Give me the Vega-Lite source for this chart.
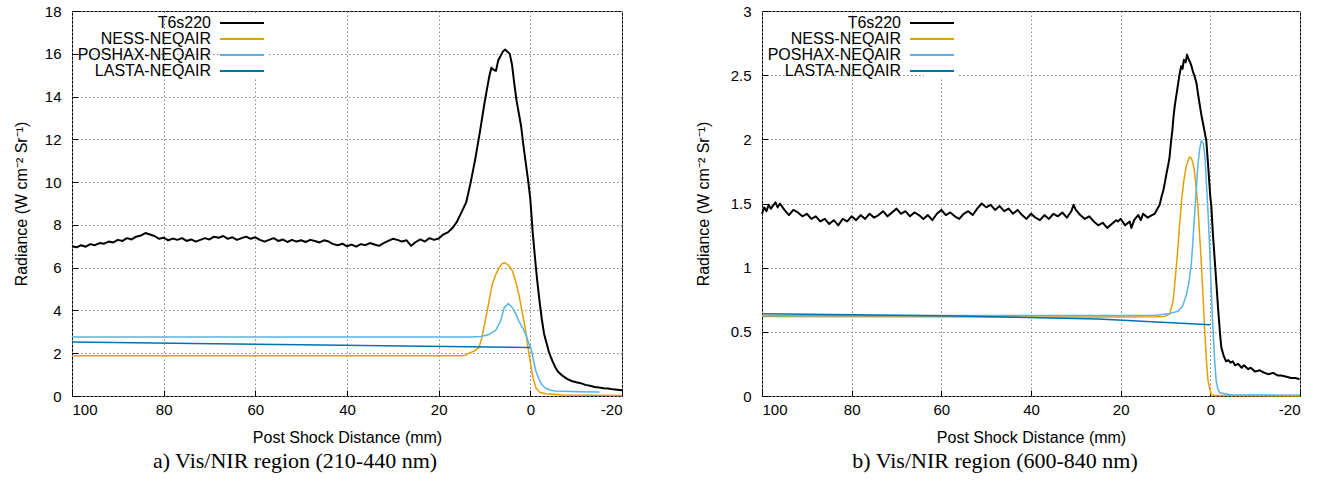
{
  "$schema": "https://vega.github.io/schema/vega-lite/v6.json",
  "background": "white",
  "padding": {"left": 12, "top": 3, "right": 5, "bottom": 5},
  "spacing": 70,
  "resolve": {"scale": {"color": "independent"}, "legend": {"color": "independent"}},
  "hconcat": [
    {
      "width": 550,
      "height": 385,
      "title": {"text": "a) Vis/NIR region (210-440 nm)", "orient": "bottom", "dx": -52},
      "data": {"values": [
        {"series":"T6s220","distance":100,"radiance":7.00},{"series":"T6s220","distance":99,"radiance":6.95},{"series":"T6s220","distance":98,"radiance":7.05},{"series":"T6s220","distance":97,"radiance":6.98},{"series":"T6s220","distance":96,"radiance":7.10},{"series":"T6s220","distance":95,"radiance":7.05},{"series":"T6s220","distance":94,"radiance":7.15},{"series":"T6s220","distance":93,"radiance":7.12},{"series":"T6s220","distance":92,"radiance":7.22},{"series":"T6s220","distance":91,"radiance":7.18},{"series":"T6s220","distance":90,"radiance":7.30},{"series":"T6s220","distance":89,"radiance":7.25},{"series":"T6s220","distance":88,"radiance":7.38},{"series":"T6s220","distance":87,"radiance":7.32},{"series":"T6s220","distance":86,"radiance":7.45},{"series":"T6s220","distance":85,"radiance":7.50},{"series":"T6s220","distance":84,"radiance":7.62},{"series":"T6s220","distance":83,"radiance":7.55},{"series":"T6s220","distance":82,"radiance":7.48},{"series":"T6s220","distance":81,"radiance":7.35},{"series":"T6s220","distance":80,"radiance":7.40},{"series":"T6s220","distance":79,"radiance":7.28},{"series":"T6s220","distance":78,"radiance":7.36},{"series":"T6s220","distance":77,"radiance":7.30},{"series":"T6s220","distance":76,"radiance":7.38},{"series":"T6s220","distance":75,"radiance":7.25},{"series":"T6s220","distance":74,"radiance":7.32},{"series":"T6s220","distance":73,"radiance":7.22},{"series":"T6s220","distance":72,"radiance":7.30},{"series":"T6s220","distance":71,"radiance":7.38},{"series":"T6s220","distance":70,"radiance":7.32},{"series":"T6s220","distance":69,"radiance":7.45},{"series":"T6s220","distance":68,"radiance":7.40},{"series":"T6s220","distance":67,"radiance":7.48},{"series":"T6s220","distance":66,"radiance":7.35},{"series":"T6s220","distance":65,"radiance":7.42},{"series":"T6s220","distance":64,"radiance":7.30},{"series":"T6s220","distance":63,"radiance":7.38},{"series":"T6s220","distance":62,"radiance":7.45},{"series":"T6s220","distance":61,"radiance":7.35},{"series":"T6s220","distance":60,"radiance":7.42},{"series":"T6s220","distance":59,"radiance":7.30},{"series":"T6s220","distance":58,"radiance":7.22},{"series":"T6s220","distance":57,"radiance":7.30},{"series":"T6s220","distance":56,"radiance":7.38},{"series":"T6s220","distance":55,"radiance":7.25},{"series":"T6s220","distance":54,"radiance":7.32},{"series":"T6s220","distance":53,"radiance":7.20},{"series":"T6s220","distance":52,"radiance":7.30},{"series":"T6s220","distance":51,"radiance":7.22},{"series":"T6s220","distance":50,"radiance":7.28},{"series":"T6s220","distance":49,"radiance":7.20},{"series":"T6s220","distance":48,"radiance":7.30},{"series":"T6s220","distance":47,"radiance":7.25},{"series":"T6s220","distance":46,"radiance":7.18},{"series":"T6s220","distance":45,"radiance":7.28},{"series":"T6s220","distance":44,"radiance":7.22},{"series":"T6s220","distance":43,"radiance":7.10},{"series":"T6s220","distance":42,"radiance":7.05},{"series":"T6s220","distance":41,"radiance":7.12},{"series":"T6s220","distance":40,"radiance":7.00},{"series":"T6s220","distance":39,"radiance":7.08},{"series":"T6s220","distance":38,"radiance":6.98},{"series":"T6s220","distance":37,"radiance":7.10},{"series":"T6s220","distance":36,"radiance":7.05},{"series":"T6s220","distance":35,"radiance":7.15},{"series":"T6s220","distance":34,"radiance":7.08},{"series":"T6s220","distance":33,"radiance":7.02},{"series":"T6s220","distance":32,"radiance":7.15},{"series":"T6s220","distance":31,"radiance":7.25},{"series":"T6s220","distance":30,"radiance":7.35},{"series":"T6s220","distance":29,"radiance":7.30},{"series":"T6s220","distance":28,"radiance":7.22},{"series":"T6s220","distance":27,"radiance":7.28},{"series":"T6s220","distance":26,"radiance":7.02},{"series":"T6s220","distance":25,"radiance":7.20},{"series":"T6s220","distance":24,"radiance":7.32},{"series":"T6s220","distance":23,"radiance":7.22},{"series":"T6s220","distance":22,"radiance":7.38},{"series":"T6s220","distance":21,"radiance":7.30},{"series":"T6s220","distance":20,"radiance":7.36},{"series":"T6s220","distance":19,"radiance":7.55},{"series":"T6s220","distance":18,"radiance":7.65},{"series":"T6s220","distance":17,"radiance":7.85},{"series":"T6s220","distance":16,"radiance":8.15},{"series":"T6s220","distance":15,"radiance":8.60},{"series":"T6s220","distance":14,"radiance":9.05},{"series":"T6s220","distance":13,"radiance":10.0},{"series":"T6s220","distance":12,"radiance":11.1},{"series":"T6s220","distance":11,"radiance":12.35},{"series":"T6s220","distance":10,"radiance":13.7},{"series":"T6s220","distance":9.5,"radiance":14.3},{"series":"T6s220","distance":9,"radiance":14.9},{"series":"T6s220","distance":8.5,"radiance":15.35},{"series":"T6s220","distance":8,"radiance":15.25},{"series":"T6s220","distance":7.5,"radiance":15.2},{"series":"T6s220","distance":7,"radiance":15.7},{"series":"T6s220","distance":6.5,"radiance":15.9},{"series":"T6s220","distance":6,"radiance":16.1},{"series":"T6s220","distance":5.5,"radiance":16.2},{"series":"T6s220","distance":5,"radiance":16.1},{"series":"T6s220","distance":4.5,"radiance":16.0},{"series":"T6s220","distance":4,"radiance":15.5},{"series":"T6s220","distance":3.5,"radiance":14.6},{"series":"T6s220","distance":3,"radiance":13.8},{"series":"T6s220","distance":2.5,"radiance":13.2},{"series":"T6s220","distance":2,"radiance":12.6},{"series":"T6s220","distance":1.5,"radiance":11.7},{"series":"T6s220","distance":1,"radiance":10.9},{"series":"T6s220","distance":0.5,"radiance":10.1},{"series":"T6s220","distance":0,"radiance":9.2},{"series":"T6s220","distance":-0.5,"radiance":7.7},{"series":"T6s220","distance":-1,"radiance":6.5},{"series":"T6s220","distance":-1.5,"radiance":5.4},{"series":"T6s220","distance":-2,"radiance":4.45},{"series":"T6s220","distance":-2.5,"radiance":3.6},{"series":"T6s220","distance":-3,"radiance":2.9},{"series":"T6s220","distance":-3.5,"radiance":2.5},{"series":"T6s220","distance":-4,"radiance":2.1},{"series":"T6s220","distance":-4.5,"radiance":1.8},{"series":"T6s220","distance":-5,"radiance":1.55},{"series":"T6s220","distance":-5.5,"radiance":1.32},{"series":"T6s220","distance":-6,"radiance":1.15},{"series":"T6s220","distance":-7,"radiance":0.95},{"series":"T6s220","distance":-8,"radiance":0.80},{"series":"T6s220","distance":-9,"radiance":0.70},{"series":"T6s220","distance":-10,"radiance":0.64},{"series":"T6s220","distance":-11,"radiance":0.60},{"series":"T6s220","distance":-12,"radiance":0.52},{"series":"T6s220","distance":-13,"radiance":0.48},{"series":"T6s220","distance":-14,"radiance":0.42},{"series":"T6s220","distance":-15,"radiance":0.40},{"series":"T6s220","distance":-16,"radiance":0.36},{"series":"T6s220","distance":-17,"radiance":0.35},{"series":"T6s220","distance":-18,"radiance":0.31},{"series":"T6s220","distance":-19,"radiance":0.29},{"series":"T6s220","distance":-20,"radiance":0.27},
        {"series":"NESS-NEQAIR","distance":100,"radiance":1.88},{"series":"NESS-NEQAIR","distance":15,"radiance":1.88},{"series":"NESS-NEQAIR","distance":14,"radiance":1.92},{"series":"NESS-NEQAIR","distance":13.4,"radiance":2.0},{"series":"NESS-NEQAIR","distance":12.3,"radiance":2.1},{"series":"NESS-NEQAIR","distance":11.2,"radiance":2.26},{"series":"NESS-NEQAIR","distance":10.5,"radiance":2.8},{"series":"NESS-NEQAIR","distance":9.7,"radiance":3.66},{"series":"NESS-NEQAIR","distance":9.0,"radiance":4.45},{"series":"NESS-NEQAIR","distance":8.3,"radiance":5.22},{"series":"NESS-NEQAIR","distance":7.5,"radiance":5.7},{"series":"NESS-NEQAIR","distance":6.8,"radiance":6.0},{"series":"NESS-NEQAIR","distance":6.2,"radiance":6.18},{"series":"NESS-NEQAIR","distance":5.5,"radiance":6.23},{"series":"NESS-NEQAIR","distance":4.7,"radiance":6.1},{"series":"NESS-NEQAIR","distance":3.9,"radiance":5.84},{"series":"NESS-NEQAIR","distance":3.2,"radiance":5.35},{"series":"NESS-NEQAIR","distance":2.5,"radiance":4.75},{"series":"NESS-NEQAIR","distance":1.8,"radiance":3.95},{"series":"NESS-NEQAIR","distance":1.0,"radiance":3.04},{"series":"NESS-NEQAIR","distance":0.5,"radiance":2.25},{"series":"NESS-NEQAIR","distance":-0.07,"radiance":1.48},{"series":"NESS-NEQAIR","distance":-0.6,"radiance":0.85},{"series":"NESS-NEQAIR","distance":-1.2,"radiance":0.39},{"series":"NESS-NEQAIR","distance":-2,"radiance":0.18},{"series":"NESS-NEQAIR","distance":-3.35,"radiance":0.11},{"series":"NESS-NEQAIR","distance":-7,"radiance":0.05},{"series":"NESS-NEQAIR","distance":-20,"radiance":0.02},
        {"series":"POSHAX-NEQAIR","distance":100,"radiance":2.76},{"series":"POSHAX-NEQAIR","distance":13,"radiance":2.76},{"series":"POSHAX-NEQAIR","distance":10.8,"radiance":2.78},{"series":"POSHAX-NEQAIR","distance":9,"radiance":2.88},{"series":"POSHAX-NEQAIR","distance":7.55,"radiance":3.07},{"series":"POSHAX-NEQAIR","distance":6.5,"radiance":3.5},{"series":"POSHAX-NEQAIR","distance":5.7,"radiance":4.13},{"series":"POSHAX-NEQAIR","distance":4.8,"radiance":4.32},{"series":"POSHAX-NEQAIR","distance":3.9,"radiance":4.13},{"series":"POSHAX-NEQAIR","distance":3.2,"radiance":3.85},{"series":"POSHAX-NEQAIR","distance":2.5,"radiance":3.5},{"series":"POSHAX-NEQAIR","distance":1.7,"radiance":3.2},{"series":"POSHAX-NEQAIR","distance":1.0,"radiance":2.88},{"series":"POSHAX-NEQAIR","distance":0.3,"radiance":2.45},{"series":"POSHAX-NEQAIR","distance":-0.3,"radiance":2.1},{"series":"POSHAX-NEQAIR","distance":-0.8,"radiance":1.55},{"series":"POSHAX-NEQAIR","distance":-1.2,"radiance":1.17},{"series":"POSHAX-NEQAIR","distance":-1.9,"radiance":0.78},{"series":"POSHAX-NEQAIR","distance":-2.6,"radiance":0.5},{"series":"POSHAX-NEQAIR","distance":-3.35,"radiance":0.36},{"series":"POSHAX-NEQAIR","distance":-4.5,"radiance":0.27},{"series":"POSHAX-NEQAIR","distance":-5.5,"radiance":0.23},{"series":"POSHAX-NEQAIR","distance":-10.6,"radiance":0.2},{"series":"POSHAX-NEQAIR","distance":-15.1,"radiance":0.19},
        {"series":"LASTA-NEQAIR","distance":100,"radiance":2.52},{"series":"LASTA-NEQAIR","distance":50,"radiance":2.40},{"series":"LASTA-NEQAIR","distance":0,"radiance":2.27}
      ]},
      "encoding": {
        "x": {"field": "distance", "type": "quantitative", "scale": {"domain": [-20, 100], "reverse": true, "nice": false, "zero": false}, "axis": {"values": [100, 80, 60, 40, 20, 0, -20], "title": "Post Shock Distance (mm)"}},
        "y": {"field": "radiance", "type": "quantitative", "scale": {"domain": [0, 18], "nice": false}, "axis": {"values": [0, 2, 4, 6, 8, 10, 12, 14, 16, 18], "title": "Radiance (W cm⁻² Sr⁻¹)"}},
        "color": {"field": "series", "type": "nominal", "scale": {"domain": ["T6s220", "NESS-NEQAIR", "POSHAX-NEQAIR", "LASTA-NEQAIR"], "range": ["#000000", "#E69F00", "#56B4E9", "#0072B2"]}}
      },
      "layer": [
        {"transform": [{"filter": "datum.series !== 'T6s220'"}], "mark": {"type": "line", "strokeWidth": 1.5, "strokeJoin": "round"}},
        {"transform": [{"filter": "datum.series === 'T6s220'"}], "mark": {"type": "line", "strokeWidth": 2, "strokeJoin": "round"}}
      ]
    },
    {
      "width": 538,
      "height": 385,
      "title": {"text": "b) Vis/NIR region (600-840 nm)", "orient": "bottom", "dx": -36},
      "data": {"values": [
        {"series":"T6s220","distance":100,"radiance":1.42},{"series":"T6s220","distance":99.5,"radiance":1.47},{"series":"T6s220","distance":99,"radiance":1.44},{"series":"T6s220","distance":98.5,"radiance":1.49},{"series":"T6s220","distance":98,"radiance":1.46},{"series":"T6s220","distance":97,"radiance":1.51},{"series":"T6s220","distance":96.5,"radiance":1.47},{"series":"T6s220","distance":96,"radiance":1.50},{"series":"T6s220","distance":95,"radiance":1.45},{"series":"T6s220","distance":94,"radiance":1.41},{"series":"T6s220","distance":93,"radiance":1.45},{"series":"T6s220","distance":92,"radiance":1.43},{"series":"T6s220","distance":91,"radiance":1.40},{"series":"T6s220","distance":90,"radiance":1.42},{"series":"T6s220","distance":89,"radiance":1.38},{"series":"T6s220","distance":88,"radiance":1.40},{"series":"T6s220","distance":87,"radiance":1.36},{"series":"T6s220","distance":86,"radiance":1.38},{"series":"T6s220","distance":85,"radiance":1.34},{"series":"T6s220","distance":84,"radiance":1.37},{"series":"T6s220","distance":83,"radiance":1.33},{"series":"T6s220","distance":82,"radiance":1.38},{"series":"T6s220","distance":81,"radiance":1.36},{"series":"T6s220","distance":80,"radiance":1.40},{"series":"T6s220","distance":79,"radiance":1.37},{"series":"T6s220","distance":78,"radiance":1.41},{"series":"T6s220","distance":77,"radiance":1.38},{"series":"T6s220","distance":76,"radiance":1.42},{"series":"T6s220","distance":75,"radiance":1.39},{"series":"T6s220","distance":74,"radiance":1.41},{"series":"T6s220","distance":73,"radiance":1.44},{"series":"T6s220","distance":72,"radiance":1.40},{"series":"T6s220","distance":71,"radiance":1.43},{"series":"T6s220","distance":70,"radiance":1.46},{"series":"T6s220","distance":69,"radiance":1.42},{"series":"T6s220","distance":68,"radiance":1.44},{"series":"T6s220","distance":67,"radiance":1.40},{"series":"T6s220","distance":66,"radiance":1.43},{"series":"T6s220","distance":65,"radiance":1.41},{"series":"T6s220","distance":64,"radiance":1.38},{"series":"T6s220","distance":63,"radiance":1.41},{"series":"T6s220","distance":62,"radiance":1.37},{"series":"T6s220","distance":61,"radiance":1.42},{"series":"T6s220","distance":60,"radiance":1.45},{"series":"T6s220","distance":59,"radiance":1.41},{"series":"T6s220","distance":58,"radiance":1.43},{"series":"T6s220","distance":57,"radiance":1.40},{"series":"T6s220","distance":56,"radiance":1.38},{"series":"T6s220","distance":55,"radiance":1.42},{"series":"T6s220","distance":54,"radiance":1.44},{"series":"T6s220","distance":53,"radiance":1.41},{"series":"T6s220","distance":52,"radiance":1.46},{"series":"T6s220","distance":51,"radiance":1.50},{"series":"T6s220","distance":50,"radiance":1.47},{"series":"T6s220","distance":49,"radiance":1.49},{"series":"T6s220","distance":48,"radiance":1.45},{"series":"T6s220","distance":47,"radiance":1.48},{"series":"T6s220","distance":46,"radiance":1.44},{"series":"T6s220","distance":45,"radiance":1.46},{"series":"T6s220","distance":44,"radiance":1.42},{"series":"T6s220","distance":43,"radiance":1.45},{"series":"T6s220","distance":42,"radiance":1.41},{"series":"T6s220","distance":41,"radiance":1.38},{"series":"T6s220","distance":40,"radiance":1.42},{"series":"T6s220","distance":39,"radiance":1.39},{"series":"T6s220","distance":38,"radiance":1.37},{"series":"T6s220","distance":37,"radiance":1.41},{"series":"T6s220","distance":36,"radiance":1.38},{"series":"T6s220","distance":35,"radiance":1.42},{"series":"T6s220","distance":34,"radiance":1.40},{"series":"T6s220","distance":33,"radiance":1.43},{"series":"T6s220","distance":32,"radiance":1.39},{"series":"T6s220","distance":31,"radiance":1.44},{"series":"T6s220","distance":30.5,"radiance":1.49},{"series":"T6s220","distance":30,"radiance":1.45},{"series":"T6s220","distance":29,"radiance":1.41},{"series":"T6s220","distance":28,"radiance":1.38},{"series":"T6s220","distance":27,"radiance":1.40},{"series":"T6s220","distance":26,"radiance":1.36},{"series":"T6s220","distance":25,"radiance":1.33},{"series":"T6s220","distance":24,"radiance":1.35},{"series":"T6s220","distance":23,"radiance":1.31},{"series":"T6s220","distance":22,"radiance":1.34},{"series":"T6s220","distance":21,"radiance":1.37},{"series":"T6s220","distance":20.6,"radiance":1.36},{"series":"T6s220","distance":20,"radiance":1.38},{"series":"T6s220","distance":19,"radiance":1.33},{"series":"T6s220","distance":18,"radiance":1.36},{"series":"T6s220","distance":17.6,"radiance":1.31},{"series":"T6s220","distance":17,"radiance":1.37},{"series":"T6s220","distance":16.1,"radiance":1.41},{"series":"T6s220","distance":15.5,"radiance":1.37},{"series":"T6s220","distance":15,"radiance":1.42},{"series":"T6s220","distance":14,"radiance":1.39},{"series":"T6s220","distance":13,"radiance":1.41},{"series":"T6s220","distance":12.4,"radiance":1.42},{"series":"T6s220","distance":11.8,"radiance":1.46},{"series":"T6s220","distance":11.3,"radiance":1.49},{"series":"T6s220","distance":10.9,"radiance":1.55},{"series":"T6s220","distance":10.5,"radiance":1.60},{"series":"T6s220","distance":10.1,"radiance":1.67},{"series":"T6s220","distance":9.8,"radiance":1.73},{"series":"T6s220","distance":9.4,"radiance":1.80},{"series":"T6s220","distance":9.1,"radiance":1.86},{"series":"T6s220","distance":8.8,"radiance":1.97},{"series":"T6s220","distance":8.5,"radiance":2.06},{"series":"T6s220","distance":8.2,"radiance":2.18},{"series":"T6s220","distance":7.9,"radiance":2.27},{"series":"T6s220","distance":7.5,"radiance":2.36},{"series":"T6s220","distance":7.2,"radiance":2.43},{"series":"T6s220","distance":6.9,"radiance":2.50},{"series":"T6s220","distance":6.5,"radiance":2.57},{"series":"T6s220","distance":6.2,"radiance":2.55},{"series":"T6s220","distance":5.9,"radiance":2.62},{"series":"T6s220","distance":5.5,"radiance":2.60},{"series":"T6s220","distance":5.2,"radiance":2.66},{"series":"T6s220","distance":4.8,"radiance":2.62},{"series":"T6s220","distance":4.5,"radiance":2.60},{"series":"T6s220","distance":4.2,"radiance":2.57},{"series":"T6s220","distance":3.9,"radiance":2.53},{"series":"T6s220","distance":3.5,"radiance":2.49},{"series":"T6s220","distance":3.1,"radiance":2.44},{"series":"T6s220","distance":2.6,"radiance":2.32},{"series":"T6s220","distance":2.0,"radiance":2.19},{"series":"T6s220","distance":1.5,"radiance":2.10},{"series":"T6s220","distance":0.9,"radiance":1.99},{"series":"T6s220","distance":0.5,"radiance":1.80},{"series":"T6s220","distance":0,"radiance":1.55},{"series":"T6s220","distance":-0.2,"radiance":1.49},{"series":"T6s220","distance":-0.6,"radiance":1.25},{"series":"T6s220","distance":-1.0,"radiance":1.05},{"series":"T6s220","distance":-1.3,"radiance":0.90},{"series":"T6s220","distance":-1.8,"radiance":0.65},{"series":"T6s220","distance":-2.2,"radiance":0.47},{"series":"T6s220","distance":-2.45,"radiance":0.38},{"series":"T6s220","distance":-3,"radiance":0.31},{"series":"T6s220","distance":-3.5,"radiance":0.27},{"series":"T6s220","distance":-4,"radiance":0.28},{"series":"T6s220","distance":-4.5,"radiance":0.26},{"series":"T6s220","distance":-5,"radiance":0.27},{"series":"T6s220","distance":-5.5,"radiance":0.24},{"series":"T6s220","distance":-6.2,"radiance":0.25},{"series":"T6s220","distance":-7,"radiance":0.22},{"series":"T6s220","distance":-7.5,"radiance":0.24},{"series":"T6s220","distance":-8.4,"radiance":0.21},{"series":"T6s220","distance":-9,"radiance":0.22},{"series":"T6s220","distance":-10,"radiance":0.19},{"series":"T6s220","distance":-11,"radiance":0.20},{"series":"T6s220","distance":-12.1,"radiance":0.18},{"series":"T6s220","distance":-13,"radiance":0.17},{"series":"T6s220","distance":-14,"radiance":0.18},{"series":"T6s220","distance":-15,"radiance":0.16},{"series":"T6s220","distance":-15.8,"radiance":0.16},{"series":"T6s220","distance":-17,"radiance":0.15},{"series":"T6s220","distance":-18,"radiance":0.14},{"series":"T6s220","distance":-19,"radiance":0.14},{"series":"T6s220","distance":-19.9,"radiance":0.13},
        {"series":"NESS-NEQAIR","distance":100,"radiance":0.62},{"series":"NESS-NEQAIR","distance":20,"radiance":0.615},{"series":"NESS-NEQAIR","distance":12,"radiance":0.617},{"series":"NESS-NEQAIR","distance":10.2,"radiance":0.62},{"series":"NESS-NEQAIR","distance":9.06,"radiance":0.64},{"series":"NESS-NEQAIR","distance":8.3,"radiance":0.74},{"series":"NESS-NEQAIR","distance":8.0,"radiance":0.85},{"series":"NESS-NEQAIR","distance":7.6,"radiance":1.0},{"series":"NESS-NEQAIR","distance":7.2,"radiance":1.17},{"series":"NESS-NEQAIR","distance":6.84,"radiance":1.34},{"series":"NESS-NEQAIR","distance":6.4,"radiance":1.53},{"series":"NESS-NEQAIR","distance":5.9,"radiance":1.68},{"series":"NESS-NEQAIR","distance":5.45,"radiance":1.78},{"series":"NESS-NEQAIR","distance":5.0,"radiance":1.83},{"series":"NESS-NEQAIR","distance":4.7,"radiance":1.86},{"series":"NESS-NEQAIR","distance":4.4,"radiance":1.86},{"series":"NESS-NEQAIR","distance":4.1,"radiance":1.84},{"series":"NESS-NEQAIR","distance":3.64,"radiance":1.78},{"series":"NESS-NEQAIR","distance":3.2,"radiance":1.64},{"series":"NESS-NEQAIR","distance":2.75,"radiance":1.47},{"series":"NESS-NEQAIR","distance":2.4,"radiance":1.26},{"series":"NESS-NEQAIR","distance":2.0,"radiance":1.03},{"series":"NESS-NEQAIR","distance":1.6,"radiance":0.76},{"series":"NESS-NEQAIR","distance":1.26,"radiance":0.51},{"series":"NESS-NEQAIR","distance":0.9,"radiance":0.29},{"series":"NESS-NEQAIR","distance":0.52,"radiance":0.12},{"series":"NESS-NEQAIR","distance":-0.2,"radiance":0.01},{"series":"NESS-NEQAIR","distance":-1,"radiance":0.003},{"series":"NESS-NEQAIR","distance":-20,"radiance":0.0},
        {"series":"POSHAX-NEQAIR","distance":100,"radiance":0.625},{"series":"POSHAX-NEQAIR","distance":20,"radiance":0.628},{"series":"POSHAX-NEQAIR","distance":12,"radiance":0.63},{"series":"POSHAX-NEQAIR","distance":9.4,"radiance":0.64},{"series":"POSHAX-NEQAIR","distance":7.2,"radiance":0.66},{"series":"POSHAX-NEQAIR","distance":6.2,"radiance":0.70},{"series":"POSHAX-NEQAIR","distance":5.33,"radiance":0.79},{"series":"POSHAX-NEQAIR","distance":4.8,"radiance":0.88},{"series":"POSHAX-NEQAIR","distance":4.24,"radiance":1.03},{"series":"POSHAX-NEQAIR","distance":3.9,"radiance":1.20},{"series":"POSHAX-NEQAIR","distance":3.5,"radiance":1.42},{"series":"POSHAX-NEQAIR","distance":3.1,"radiance":1.63},{"series":"POSHAX-NEQAIR","distance":2.75,"radiance":1.81},{"series":"POSHAX-NEQAIR","distance":2.35,"radiance":1.93},{"series":"POSHAX-NEQAIR","distance":2.0,"radiance":1.99},{"series":"POSHAX-NEQAIR","distance":1.57,"radiance":1.97},{"series":"POSHAX-NEQAIR","distance":1.2,"radiance":1.86},{"series":"POSHAX-NEQAIR","distance":0.9,"radiance":1.68},{"series":"POSHAX-NEQAIR","distance":0.5,"radiance":1.42},{"series":"POSHAX-NEQAIR","distance":0.15,"radiance":1.16},{"series":"POSHAX-NEQAIR","distance":-0.2,"radiance":0.82},{"series":"POSHAX-NEQAIR","distance":-0.6,"radiance":0.51},{"series":"POSHAX-NEQAIR","distance":-1.0,"radiance":0.26},{"series":"POSHAX-NEQAIR","distance":-1.3,"radiance":0.12},{"series":"POSHAX-NEQAIR","distance":-1.7,"radiance":0.05},{"series":"POSHAX-NEQAIR","distance":-2.1,"radiance":0.026},{"series":"POSHAX-NEQAIR","distance":-4.5,"radiance":0.01},{"series":"POSHAX-NEQAIR","distance":-20,"radiance":0.005},
        {"series":"LASTA-NEQAIR","distance":100,"radiance":0.64},{"series":"LASTA-NEQAIR","distance":60,"radiance":0.625},{"series":"LASTA-NEQAIR","distance":25,"radiance":0.60},{"series":"LASTA-NEQAIR","distance":0,"radiance":0.555}
      ]},
      "encoding": {
        "x": {"field": "distance", "type": "quantitative", "scale": {"domain": [-20, 100], "reverse": true, "nice": false, "zero": false}, "axis": {"values": [100, 80, 60, 40, 20, 0, -20], "title": "Post Shock Distance (mm)"}},
        "y": {"field": "radiance", "type": "quantitative", "scale": {"domain": [0, 3], "nice": false}, "axis": {"values": [0, 0.5, 1, 1.5, 2, 2.5, 3], "format": "~g", "title": "Radiance (W cm⁻² Sr⁻¹)", "titlePadding": 19}},
        "color": {"field": "series", "type": "nominal", "scale": {"domain": ["T6s220", "NESS-NEQAIR", "POSHAX-NEQAIR", "LASTA-NEQAIR"], "range": ["#000000", "#E69F00", "#56B4E9", "#0072B2"]}}
      },
      "layer": [
        {"transform": [{"filter": "datum.series !== 'T6s220'"}], "mark": {"type": "line", "strokeWidth": 1.5, "strokeJoin": "round"}},
        {"transform": [{"filter": "datum.series === 'T6s220'"}], "mark": {"type": "line", "strokeWidth": 2, "strokeJoin": "round"}}
      ]
    }
  ],
  "config": {
    "font": "Liberation Sans",
    "view": {"stroke": "black", "strokeWidth": 1},
    "title": {"font": "Liberation Serif", "fontSize": 22, "fontWeight": "normal", "color": "black", "offset": 6},
    "axis": {"labelFont": "Liberation Sans", "labelFontSize": 15, "labelColor": "black", "labelExpr": "replace(datum.label, '−', '-')", "titleFont": "Liberation Sans", "titleFontSize": 16, "titleFontWeight": "normal", "titleColor": "black", "domain": false, "grid": true, "gridColor": "#888888", "gridDash": [1.5, 2.5], "gridWidth": 1, "tickColor": "black", "tickSize": -6, "tickWidth": 1},
    "axisX": {"labelPadding": 12, "titlePadding": 12},
    "axisY": {"labelPadding": 17, "titlePadding": 15},
    "legend": {"orient": "none", "legendX": 162, "legendY": 4, "padding": 0, "fillColor": "white", "title": null, "symbolType": "M-4,0H4", "symbolSize": 121, "symbolStrokeWidth": 2, "labelFont": "Liberation Sans", "labelFontSize": 16, "labelColor": "black", "labelAlign": "right", "labelOffset": -39, "labelLimit": 300, "rowPadding": -1}
  }
}
